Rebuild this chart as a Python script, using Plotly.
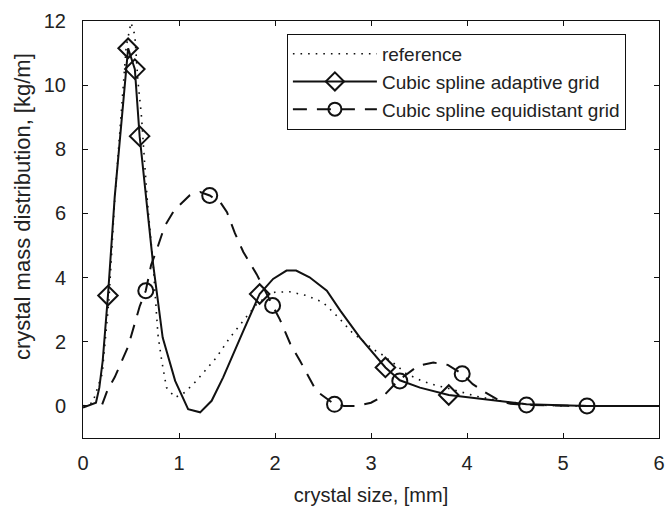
import plotly.graph_objects as go

# reference (dotted)
ref_x = [0, 0.1, 0.2, 0.27, 0.33, 0.4, 0.45, 0.5, 0.54, 0.57, 0.61, 0.64, 0.67, 0.73, 0.765, 0.78,
         0.82, 0.87, 0.96, 1.06, 1.18, 1.29, 1.39, 1.53, 1.67, 1.81, 1.98, 2.15, 2.33, 2.5, 2.66,
         2.8, 3.02, 3.11, 3.25, 3.37, 3.53, 3.63, 3.8, 3.95, 4.1, 4.34, 4.7, 5.0, 6.0]
ref_y = [0, 0.1, 1.0, 3.3, 6.4, 9.3, 11.2, 11.95, 11.56, 10.2, 9.0, 7.66, 6.4, 4.43, 3.07, 2.24,
         1.41, 0.57, 0.26, 0.42, 0.78, 1.15, 1.51, 2.13, 2.66, 3.18, 3.54, 3.56, 3.44, 3.23, 2.76,
         2.3, 1.77, 1.61, 1.3, 1.0, 0.78, 0.68, 0.55, 0.42, 0.3, 0.16, 0.03, 0.0, 0.0]

# cubic spline, adaptive grid (solid)
ada_x = [0, 0.135, 0.17, 0.205, 0.26, 0.33, 0.47, 0.54, 0.59, 0.64, 0.73, 0.83, 0.96, 1.095, 1.22,
         1.34, 1.46, 1.67, 1.84, 1.98, 2.12, 2.22, 2.36, 2.54, 2.68, 2.885, 3.15, 3.30, 3.51, 3.81,
         4.28, 4.62, 5.25, 6.0]
ada_y = [-0.05, 0.1, 0.57, 1.4, 3.44, 6.5, 11.15, 10.5, 8.41, 7.0, 4.43, 2.13, 0.78, -0.1, -0.2,
         0.16, 0.89, 2.34, 3.49, 3.96, 4.22, 4.22, 4.01, 3.59, 2.97, 2.13, 1.2, 0.8, 0.57, 0.34,
         0.16, 0.05, 0.0, 0.0]
ada_mx = [0.26, 0.47, 0.54, 0.59, 1.84, 3.15, 3.81]
ada_my = [3.44, 11.15, 10.5, 8.41, 3.49, 1.2, 0.34]

# cubic spline, equidistant grid (dashed)
eq_x = [0.2, 0.26, 0.33, 0.40, 0.47, 0.59, 0.654, 0.71, 0.765, 0.85, 0.95, 1.11, 1.22, 1.32, 1.43,
        1.50, 1.58, 1.67, 1.81, 1.975, 2.05, 2.16, 2.26, 2.43, 2.54, 2.62, 2.72, 2.85, 3.0, 3.13,
        3.28, 3.49, 3.65, 3.80, 3.95, 4.06, 4.19, 4.34, 4.45, 4.62, 5.25]
eq_y = [0.05, 0.53, 0.89, 1.35, 1.85, 3.1, 3.59, 4.4, 4.84, 5.6, 6.1, 6.56, 6.67, 6.56, 6.35,
        6.04, 5.4, 4.8, 4.1, 3.13, 2.7, 1.93, 1.41, 0.47, 0.21, 0.05, 0.0, 0.0, 0.1, 0.31,
        0.78, 1.25, 1.35, 1.28, 1.0, 0.68, 0.42, 0.16, 0.07, 0.03, 0.0]
eq_mx = [0.654, 1.32, 1.975, 2.62, 3.30, 3.95, 4.62, 5.25]
eq_my = [3.59, 6.56, 3.13, 0.05, 0.78, 1.0, 0.03, 0.0]

x_ticks = [0, 1, 2, 3, 4, 5, 6]
y_ticks = [0, 2, 4, 6, 8, 10, 12]

BLACK = "#111111"
TXT = "#222222"
FONT = "Liberation Sans, Arial, sans-serif"
DOT = dict(color=BLACK, width=1.6, dash="1.6px,6px")
SOLID = dict(color=BLACK, width=2)
DASH = dict(color=BLACK, width=2, dash="14px,10px")

fig = go.Figure()
fig.add_trace(go.Scatter(x=ref_x, y=ref_y, mode="lines", line=DOT, showlegend=False))
fig.add_trace(go.Scatter(x=ada_x, y=ada_y, mode="lines", line=SOLID, showlegend=False))
fig.add_trace(go.Scatter(x=eq_x, y=eq_y, mode="lines", line=DASH, showlegend=False))
fig.add_trace(go.Scatter(x=ada_mx, y=ada_my, mode="markers", showlegend=False,
                         marker=dict(symbol="diamond-open", size=15, color=BLACK,
                                     line=dict(width=2, color=BLACK))))
fig.add_trace(go.Scatter(x=eq_mx, y=eq_my, mode="markers", showlegend=False,
                         marker=dict(symbol="circle-open", size=15, color=BLACK,
                                     line=dict(width=2, color=BLACK))))
# legend entries
fig.add_trace(go.Scatter(x=[None], y=[None], mode="lines", line=DOT, name="reference"))
fig.add_trace(go.Scatter(x=[None], y=[None], mode="lines+markers", line=SOLID,
                         name="Cubic spline adaptive grid",
                         marker=dict(symbol="diamond-open", size=14, color=BLACK,
                                     line=dict(width=2, color=BLACK))))
fig.add_trace(go.Scatter(x=[None], y=[None], mode="lines+markers", line=DASH,
                         name="Cubic spline equidistant grid",
                         marker=dict(symbol="circle-open", size=13, color=BLACK,
                                     line=dict(width=2, color=BLACK))))

axis_common = dict(showgrid=False, zeroline=False, showline=True, linecolor=BLACK, linewidth=1,
                   mirror="ticks", ticks="inside", ticklen=5, tickcolor=BLACK, tickwidth=1,
                   automargin=False, tickfont=dict(size=20, color=TXT, family=FONT))

fig.update_layout(
    width=668, height=506,
    margin=dict(l=83, r=9, t=21, b=68),
    paper_bgcolor="white", plot_bgcolor="white",
    font=dict(family=FONT, size=20, color=TXT),
    xaxis=dict(range=[0, 6], tickvals=x_ticks, ticklabelstandoff=7,
               title=dict(text="crystal size, [mm]", standoff=15, font=dict(size=20)),
               **axis_common),
    yaxis=dict(range=[-1, 12], tickvals=y_ticks, ticklabelstandoff=12, **axis_common),
    legend=dict(x=0.354, y=0.969, xanchor="left", yanchor="top", bordercolor=BLACK, borderwidth=1,
                bgcolor="white", font=dict(size=19, color=TXT), itemwidth=84,
                tracegroupgap=0),
    annotations=[dict(text="crystal mass distribution, [kg/m]", textangle=-90, showarrow=False,
                      xref="paper", yref="paper", x=-0.106, y=0.556,
                      xanchor="center", yanchor="middle", font=dict(size=22, color=TXT))],
)

fig.write_html("out.html", config={"displayModeBar": False},
               post_script="document.body.style.margin='0';")
